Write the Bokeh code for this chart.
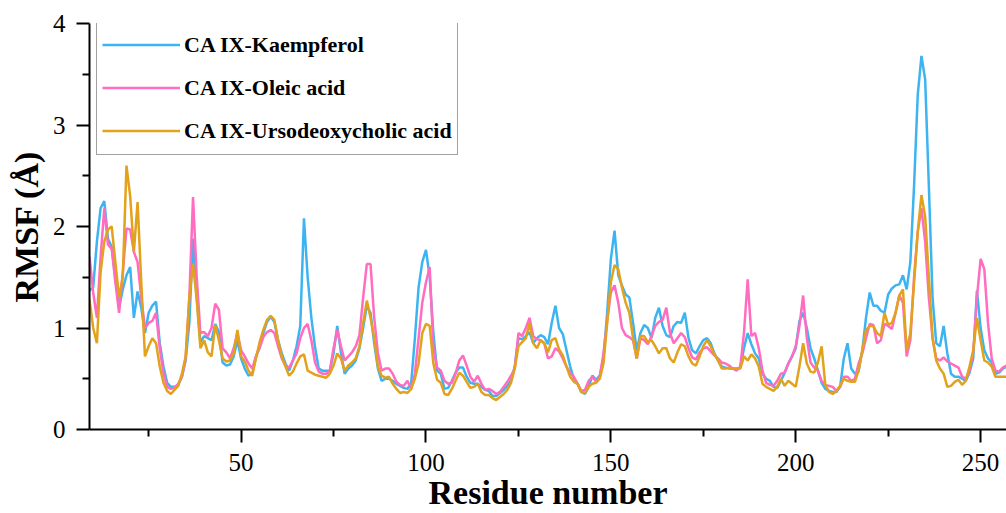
from bokeh.plotting import figure
from bokeh.models import Range1d, FixedTicker, Legend, LegendItem
from bokeh.embed import file_html
from bokeh.resources import INLINE

# Residue numbers (visible part of the plot)
residues = list(range(9, 258))

kaempferol = [
    1.37, 1.40, 1.85, 2.18, 2.25, 1.88, 1.80, 1.50, 1.20, 1.38,
    1.52, 1.60, 1.10, 1.36, 1.20, 0.95, 1.15, 1.22, 1.26, 0.85,
    0.62, 0.46, 0.42, 0.42, 0.44, 0.52, 0.68, 1.05, 1.88, 1.30,
    0.86, 0.92, 0.90, 0.88, 1.04, 0.96, 0.66, 0.63, 0.64, 0.72,
    0.88, 0.70, 0.60, 0.53, 0.55, 0.71, 0.82, 0.95, 1.06, 1.11,
    1.06, 0.88, 0.75, 0.65, 0.58, 0.68, 0.82, 1.02, 2.08, 1.50,
    1.10, 0.81, 0.60, 0.58, 0.58, 0.58, 0.75, 1.02, 0.76, 0.55,
    0.60, 0.63, 0.68, 0.80, 1.00, 1.22, 1.15, 0.85, 0.60, 0.48,
    0.50, 0.50, 0.48, 0.45, 0.43, 0.41, 0.40, 0.46, 0.90, 1.40,
    1.65, 1.77, 1.50, 0.95, 0.58, 0.55, 0.40, 0.41, 0.48, 0.56,
    0.61, 0.61, 0.52, 0.46, 0.45, 0.45, 0.42, 0.39, 0.38, 0.33,
    0.33, 0.36, 0.39, 0.43, 0.48, 0.62, 0.90, 0.89, 0.92, 0.96,
    0.85, 0.90, 0.93, 0.91, 0.84, 1.05, 1.22, 1.00, 0.94, 0.78,
    0.62, 0.50, 0.45, 0.37, 0.35, 0.42, 0.53, 0.49, 0.53, 0.70,
    1.15, 1.68, 1.96, 1.52, 1.42, 1.33, 1.30, 1.05, 0.78, 0.95,
    1.03, 1.00, 0.90, 1.10, 1.20, 1.02, 0.93, 0.91, 1.02, 1.06,
    1.05, 1.15, 0.90, 0.78, 0.75, 0.82, 0.88, 0.90, 0.85, 0.75,
    0.68, 0.62, 0.61, 0.60, 0.60, 0.60, 0.61, 0.80, 0.95, 0.84,
    0.75, 0.70, 0.55, 0.50, 0.48, 0.42, 0.41, 0.48, 0.56, 0.65,
    0.72, 0.80, 1.07, 1.15, 1.00, 0.80, 0.70, 0.58, 0.46, 0.40,
    0.38, 0.37, 0.37, 0.42, 0.70, 0.85, 0.60, 0.55, 0.57, 0.78,
    1.10, 1.35, 1.22, 1.22, 1.17, 1.15, 1.33, 1.39, 1.42, 1.43,
    1.52, 1.38, 1.65, 2.40, 3.30, 3.68, 3.45, 2.40, 1.30, 0.85,
    0.82, 1.02, 0.75, 0.55, 0.52, 0.52, 0.50, 0.48, 0.56, 0.70,
    1.37, 1.00, 0.78, 0.70, 0.66, 0.55, 0.56, 0.60, 0.62,
]

oleic = [
    1.70, 1.35, 1.10, 1.70, 2.18, 1.82, 1.78, 1.45, 1.15, 1.55,
    1.98, 1.97, 1.75, 1.65, 1.30, 1.00, 1.05, 1.07, 1.15, 0.80,
    0.55, 0.42, 0.40, 0.41, 0.45, 0.52, 0.70, 1.30, 2.29, 1.50,
    0.95, 0.96, 0.92, 1.00, 1.24, 1.18, 0.80, 0.76, 0.70, 0.80,
    0.95, 0.78, 0.72, 0.65, 0.60, 0.72, 0.80, 0.91, 0.96, 0.98,
    0.95, 0.82, 0.70, 0.63, 0.61, 0.68, 0.75, 0.90, 1.00, 1.04,
    0.88, 0.66, 0.57, 0.55, 0.55, 0.58, 0.80, 0.98, 0.82, 0.68,
    0.72, 0.76, 0.82, 0.93, 1.30, 1.63, 1.63, 1.10, 0.75, 0.58,
    0.60, 0.60, 0.55, 0.47, 0.44, 0.43, 0.48, 0.40, 0.55, 0.90,
    1.25, 1.45, 1.60, 0.80, 0.61, 0.58, 0.48, 0.45, 0.46, 0.55,
    0.68, 0.73, 0.63, 0.52, 0.47, 0.53, 0.45, 0.39, 0.40, 0.38,
    0.35, 0.37, 0.42, 0.47, 0.53, 0.60, 0.95, 0.92, 1.00, 1.10,
    0.92, 0.89, 0.88, 0.85, 0.70, 0.72, 0.80, 0.77, 0.70, 0.62,
    0.56, 0.52, 0.45, 0.38, 0.39, 0.48, 0.52, 0.47, 0.52, 0.75,
    1.07, 1.35, 1.42, 1.25, 1.00, 0.93, 0.91, 0.88, 0.70, 0.90,
    0.88, 0.84, 0.92, 1.02, 1.06, 1.08, 1.20, 0.95, 0.85, 0.90,
    0.95, 0.91, 0.80, 0.71, 0.69, 0.76, 0.80, 0.81, 0.77, 0.73,
    0.70, 0.66, 0.65, 0.63, 0.60, 0.58, 0.62, 0.95, 1.48, 0.92,
    0.95, 0.80, 0.58, 0.46, 0.44, 0.43, 0.48, 0.55, 0.56, 0.65,
    0.72, 0.82, 1.02, 1.32, 0.90, 0.66, 0.61, 0.58, 0.48, 0.44,
    0.43, 0.42, 0.38, 0.42, 0.52, 0.52, 0.48, 0.50, 0.65, 0.75,
    0.90, 1.04, 1.03, 0.85, 0.88, 1.04, 1.02, 0.99, 1.15, 1.32,
    1.25, 0.72, 0.88, 1.50, 1.95, 2.18, 1.85, 1.30, 0.90, 0.70,
    0.68, 0.71, 0.67, 0.65, 0.63, 0.61, 0.52, 0.50, 0.58, 0.76,
    1.30, 1.68, 1.58, 1.05, 0.70, 0.58, 0.57, 0.61, 0.63,
]

ursodeoxycholic = [
    1.28, 1.00, 0.85, 1.55, 1.85, 1.97, 2.00, 1.65, 1.30, 1.50,
    2.60, 2.30, 1.75, 2.24, 1.45, 0.72, 0.82, 0.90, 0.85, 0.62,
    0.46, 0.38, 0.35, 0.39, 0.43, 0.55, 0.72, 1.30, 1.63, 1.28,
    0.80, 0.88, 0.76, 0.72, 1.03, 0.88, 0.70, 0.67, 0.68, 0.75,
    0.98, 0.72, 0.67, 0.58, 0.53, 0.70, 0.86, 0.98, 1.08, 1.12,
    1.08, 0.88, 0.72, 0.62, 0.53, 0.57, 0.65, 0.72, 0.74, 0.58,
    0.56, 0.54, 0.53, 0.52, 0.51, 0.55, 0.63, 0.75, 0.70, 0.58,
    0.63, 0.66, 0.70, 0.82, 1.05, 1.27, 1.10, 0.90, 0.62, 0.53,
    0.51, 0.52, 0.45, 0.40, 0.36, 0.37, 0.36, 0.40, 0.50, 0.65,
    0.95, 1.04, 1.02, 0.65, 0.49, 0.46, 0.35, 0.34, 0.40, 0.48,
    0.56, 0.53, 0.47, 0.41, 0.42, 0.45, 0.37, 0.34, 0.34, 0.31,
    0.29, 0.32, 0.35, 0.39, 0.46, 0.60, 0.82, 0.86, 0.90, 1.05,
    0.85, 0.80, 0.88, 0.85, 0.76, 0.88, 0.90, 0.79, 0.73, 0.62,
    0.52, 0.47, 0.45, 0.37, 0.36, 0.42, 0.45, 0.46, 0.50, 0.65,
    1.05, 1.45, 1.62, 1.58, 1.40, 1.25, 1.15, 0.90, 0.70, 0.92,
    0.92, 0.86, 0.88, 0.82, 0.75, 0.80, 0.80, 0.70, 0.66, 0.76,
    0.84, 0.82, 0.72, 0.65, 0.63, 0.72, 0.82, 0.88, 0.82, 0.74,
    0.68, 0.60, 0.60, 0.61, 0.60, 0.60, 0.60, 0.72, 0.68, 0.74,
    0.70, 0.62, 0.45, 0.42, 0.40, 0.38, 0.42, 0.50, 0.43, 0.48,
    0.45, 0.42, 0.62, 0.85, 0.65, 0.57, 0.56, 0.66, 0.82, 0.44,
    0.37, 0.35, 0.38, 0.43, 0.50, 0.48, 0.47, 0.47, 0.58, 0.78,
    0.98, 1.02, 1.02, 0.95, 0.92, 1.15, 1.03, 1.05, 1.15, 1.32,
    1.38, 0.78, 0.95, 1.45, 1.95, 2.31, 2.10, 1.50, 0.90, 0.68,
    0.60, 0.55, 0.42, 0.43, 0.47, 0.49, 0.44, 0.48, 0.62, 0.78,
    1.10, 0.88, 0.68, 0.66, 0.62, 0.52, 0.52, 0.52, 0.52,
]

series_names = ["CA IX-Kaempferol", "CA IX-Oleic acid", "CA IX-Ursodeoxycholic acid"]
series_colors = ["#3DB4F2", "#FF6CC0", "#E2A21C"]
x_major = [50, 100, 150, 200, 250]
x_minor = [25, 75, 125, 175, 225]
y_major = [0, 1, 2, 3, 4]
y_minor = [0.5, 1.5, 2.5, 3.5]
x_title = "Residue number"
y_title = "RMSF (Å)"

SERIF = "Liberation Serif"

p = figure(width=1006, height=513, output_backend="svg", toolbar_location=None,
           x_range=Range1d(9.0, 257.0), y_range=Range1d(0, 4),
           min_border_left=89, min_border_right=0, min_border_top=23, min_border_bottom=84)
p.grid.visible = False
p.outline_line_color = None
p.background_fill_color = "white"
p.border_fill_color = "white"

renderers = []
for vals, col in zip([kaempferol, oleic, ursodeoxycholic], series_colors):
    r = p.line(residues, vals, line_color=col, line_width=2.5)
    renderers.append(r)

for ax in (p.xaxis[0], p.yaxis[0]):
    ax.axis_line_color = "black"
    ax.axis_line_width = 2
    ax.major_tick_line_color = "black"
    ax.major_tick_line_width = 2
    ax.minor_tick_line_color = "black"
    ax.minor_tick_line_width = 2
    ax.major_tick_in = 0
    ax.major_tick_out = 13
    ax.minor_tick_in = 0
    ax.minor_tick_out = 7
    ax.major_label_text_font = SERIF
    ax.major_label_text_font_size = "25px"
    ax.major_label_text_color = "black"
    ax.axis_label_text_font = SERIF
    ax.axis_label_text_font_style = "bold"
    ax.axis_label_text_font_size = "34px"
    ax.axis_label_text_color = "black"

p.xaxis[0].ticker = FixedTicker(ticks=x_major, minor_ticks=x_minor)
p.yaxis[0].ticker = FixedTicker(ticks=y_major, minor_ticks=y_minor)
p.xaxis[0].major_label_standoff = 11
p.yaxis[0].major_label_standoff = 11
p.xaxis[0].axis_label = x_title
p.yaxis[0].axis_label = y_title
p.xaxis[0].axis_label_standoff = 0
p.yaxis[0].axis_label_standoff = 5

legend = Legend(items=[LegendItem(label=n, renderers=[r]) for n, r in zip(series_names, renderers)],
                location=(7, 274), margin=0, padding=5, spacing=6,
                glyph_width=78, glyph_height=37, label_height=37, label_standoff=4,
                label_text_font=SERIF, label_text_font_style="bold", label_text_font_size="22px",
                label_text_color="black", border_line_color="#444444", border_line_width=1.5,
                background_fill_color="white", background_fill_alpha=1.0)
p.add_layout(legend)

open("out.html", "w").write(file_html(p, INLINE))
